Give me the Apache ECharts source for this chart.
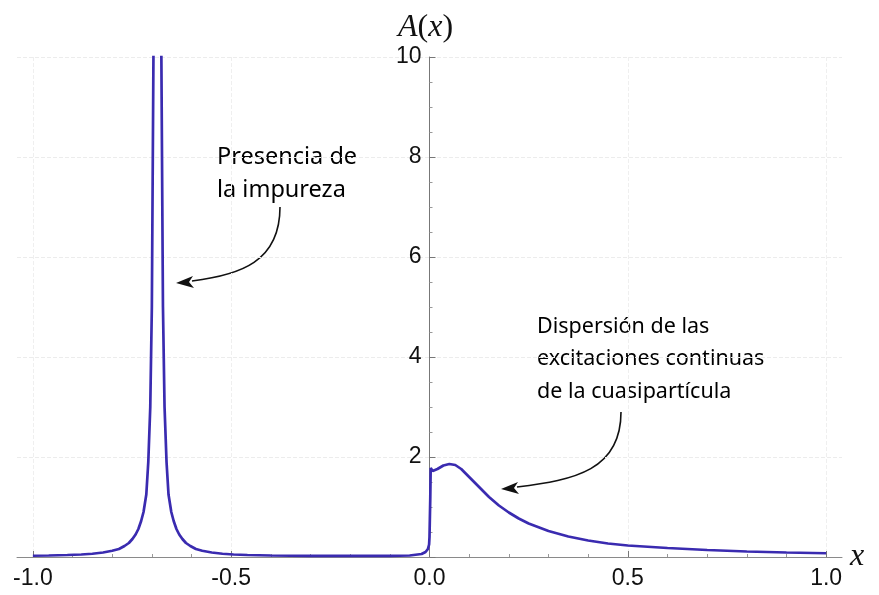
<!DOCTYPE html>
<html><head><meta charset="utf-8">
<script src="https://cdn.jsdelivr.net/npm/echarts@6/dist/echarts.min.js"></script>
<style>html,body{margin:0;padding:0;background:#fff}#c{width:879px;height:595px}</style>
</head><body><div id="c"></div>
<script>
// Impurity peak region (x from -1 to 0)
const peakX = [-1.0, -0.96, -0.913, -0.878, -0.850, -0.823, -0.800, -0.783, -0.769, -0.758, -0.749, -0.741, -0.734, -0.727, -0.721, -0.714, -0.709, -0.704, -0.700, -0.696, -0.691, -0.686,
  -0.681, -0.676, -0.672, -0.668, -0.663, -0.658, -0.651, -0.645, -0.638, -0.631, -0.623, -0.614, -0.603, -0.589, -0.573, -0.549, -0.522, -0.494, -0.459,
  -0.4, -0.3, -0.2, -0.1, -0.05, -0.02, -0.01, -0.004, -0.001];
const peakA = [0.025, 0.03, 0.04, 0.05, 0.065, 0.09, 0.125, 0.16, 0.22, 0.28, 0.36, 0.45, 0.56, 0.72, 0.9, 1.25, 1.9, 3.0, 5.0, 10.0, 25, 60,
  25, 10.0, 5.0, 3.0, 1.9, 1.25, 0.9, 0.72, 0.56, 0.45, 0.36, 0.28, 0.22, 0.16, 0.125, 0.09, 0.065, 0.05, 0.04,
  0.03, 0.024, 0.022, 0.024, 0.03, 0.06, 0.1, 0.16, 0.25];
// Quasiparticle continuum (x from 0 to 1)
const bandX = [0.0, 0.002, 0.003, 0.008, 0.02, 0.035, 0.05, 0.065, 0.08, 0.1, 0.125, 0.15, 0.175, 0.2, 0.225, 0.25, 0.3, 0.35, 0.4, 0.45, 0.5, 0.6, 0.7, 0.8, 0.9, 1.0];
const bandA = [0.4, 1.2, 1.78, 1.72, 1.76, 1.83, 1.86, 1.84, 1.76, 1.6, 1.4, 1.2, 1.03, 0.89, 0.77, 0.67, 0.52, 0.41, 0.33, 0.27, 0.23, 0.18, 0.14, 0.11, 0.09, 0.075];

const xTicks = [-1, -0.5, 0, 0.5, 1];
const xMinorTicks = [-0.9, -0.8, -0.7, -0.6, -0.4, -0.3, -0.2, -0.1, 0.1, 0.2, 0.3, 0.4, 0.6, 0.7, 0.8, 0.9];
const yMax = 10, yStep = 2;
const xMin = -1.04, xMax = 1.04;

const data = peakX.map((x, i) => [x, peakA[i]]).concat(bandX.map((x, i) => [x, bandA[i]]));

const W = 879;
const gridL = 17, gridR = 37;
// put the y axis at x = 0 of the x axis
const yAxisOffset = -((0 - xMin) / (xMax - xMin) * (W - gridL - gridR));

const chart = echarts.init(document.getElementById('c'), null, {renderer: 'canvas'});
const labelFont = {fontFamily: '"Liberation Sans", Arial, sans-serif', fontSize: 23, color: '#111'};
const annFont1 = '23.5px "Noto Sans", sans-serif';
const annFont2 = '21.5px "Noto Sans", sans-serif';
chart.setOption({
  animation: false,
  backgroundColor: '#fff',
  grid: {left: gridL, right: gridR, top: 57, bottom: 38, containLabel: false, outerBoundsMode: 'none'},
  xAxis: [{
    type: 'value', min: xMin, max: xMax, position: 'bottom',
    name: 'x', nameLocation: 'end', nameGap: 8,
    nameTextStyle: {fontFamily: '"Liberation Serif", serif', fontStyle: 'italic', fontSize: 32, color: '#111', padding: [0, 0, 12, 0]},
    axisLine: {show: true, onZero: false, lineStyle: {color: '#8a8a8a', width: 1}},
    axisTick: {show: true, inside: true, length: 6, customValues: xTicks, lineStyle: {color: '#777'}},
    axisLabel: Object.assign({customValues: xTicks, margin: 10, formatter: v => v.toFixed(1)}, labelFont),
    splitLine: {show: true, lineStyle: {color: '#efefef', type: 'dashed', width: 1}}
  }, {
    type: 'value', min: xMin, max: xMax, position: 'bottom',
    axisLine: {show: false},
    axisTick: {show: true, inside: true, length: 3, customValues: xMinorTicks, lineStyle: {color: '#999'}},
    axisLabel: {show: false},
    splitLine: {show: false}
  }],
  yAxis: {
    type: 'value', min: 0, max: yMax, interval: yStep, position: 'left', offset: yAxisOffset,
    name: '{i|A}{n|(}{i|x}{n|)}', nameLocation: 'end', nameGap: 13,
    nameTextStyle: {
      padding: [0, 8, 0, 0],
      rich: {
        i: {fontFamily: '"Liberation Serif", serif', fontStyle: 'italic', fontSize: 32, color: '#111'},
        n: {fontFamily: '"Liberation Serif", serif', fontSize: 32, color: '#111'}
      }
    },
    axisLine: {show: true, onZero: false, lineStyle: {color: '#777', width: 1}},
    axisTick: {show: true, inside: true, length: 6, lineStyle: {color: '#777'}},
    minorTick: {show: true, splitNumber: 4, length: 3, lineStyle: {color: '#999'}},
    axisLabel: Object.assign({margin: 8, formatter: v => v === 0 ? '' : String(v)}, labelFont),
    splitLine: {show: true, lineStyle: {color: '#ececec', type: 'dashed', width: 1}}
  },
  series: [{
    type: 'line', data: data, showSymbol: false, symbol: 'none', smooth: false,
    clip: true, xAxisIndex: 0,
    lineStyle: {color: '#3a2bb0', width: 2.7}
  }],
  graphic: [
    {type: 'text', x: 217, y: 157, style: {text: 'Presencia de', font: annFont1, fill: '#000', verticalAlign: 'middle'}},
    {type: 'text', x: 217, y: 190, style: {text: 'la impureza', font: annFont1, fill: '#000', verticalAlign: 'middle'}},
    {type: 'bezierCurve', shape: {x1: 280, y1: 207, cpx1: 280, cpy1: 262, cpx2: 240, cpy2: 275, x2: 192, y2: 281},
      style: {stroke: '#111', lineWidth: 1.6, fill: null}},
    {type: 'polygon', shape: {points: [[176, 283], [193, 276], [189, 282], [194, 288]]}, style: {fill: '#111'}},
    {type: 'text', x: 537, y: 327, style: {text: 'Dispersión de las', font: annFont2, fill: '#000', verticalAlign: 'middle'}},
    {type: 'text', x: 537, y: 359, style: {text: 'excitaciones continuas', font: annFont2, fill: '#000', verticalAlign: 'middle'}},
    {type: 'text', x: 537, y: 392, style: {text: 'de la cuasipartícula', font: annFont2, fill: '#000', verticalAlign: 'middle'}},
    {type: 'bezierCurve', shape: {x1: 621, y1: 412, cpx1: 621, cpy1: 470, cpx2: 575, cpy2: 480, x2: 517, y2: 487},
      style: {stroke: '#111', lineWidth: 1.6, fill: null}},
    {type: 'polygon', shape: {points: [[501, 489], [518, 482], [514, 488], [519, 494]]}, style: {fill: '#111'}}
  ]
});
</script></body></html>
